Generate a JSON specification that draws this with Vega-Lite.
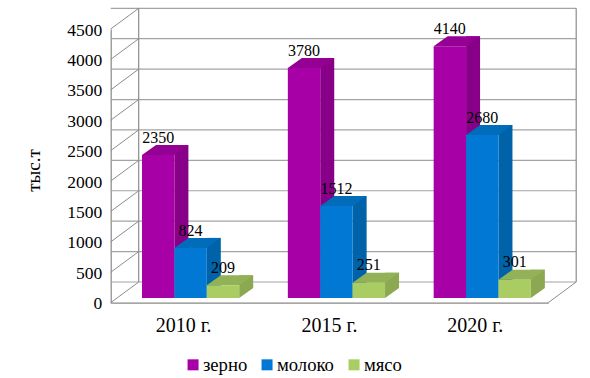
{
"$schema":"https://vega.github.io/schema/vega-lite/v6.json",
"width":437.5,"height":273.7,
"padding":{"left":110.7,"top":29,"right":41.8,"bottom":75.3},
"autosize":{"type":"none"},
"background":"white",
"config":{"view":{"stroke":null},"axis":{"labelFont":"Liberation Serif","titleFont":"Liberation Serif"},"axisY":{"labelOverlap":false,"labelBound":false,"labelFlush":false},"legend":{"labelFont":"Liberation Serif"}},
"datasets":{
"rows":[
{"year":"2010 г.","series":"зерно","value":2350},{"year":"2010 г.","series":"молоко","value":824},{"year":"2010 г.","series":"мясо","value":209},
{"year":"2015 г.","series":"зерно","value":3780},{"year":"2015 г.","series":"молоко","value":1512},{"year":"2015 г.","series":"мясо","value":251},
{"year":"2020 г.","series":"зерно","value":4140},{"year":"2020 г.","series":"молоко","value":2680},{"year":"2020 г.","series":"мясо","value":301}],
"ticks":[{"t":0},{"t":500},{"t":1000},{"t":1500},{"t":2000},{"t":2500},{"t":3000},{"t":3500},{"t":4000},{"t":4500}]
},
"layer":[
{"data":{"name":"ticks"},"mark":{"type":"rule","color":"#a3a3a3","strokeWidth":1.2,"xOffset":28,"yOffset":-20.7},
 "encoding":{"y":{"field":"t","type":"quantitative","scale":{"domain":[0,4500],"nice":false},"axis":{"values":[0,500,1000,1500,2000,2500,3000,3500,4000,4500],"tickCount":10,"format":"d","labelOverlap":false,"labelOffset":1,"ticks":false,"grid":false,"domainColor":"#888888","domainWidth":1.2,"labelFontSize":17.5,"labelColor":"black","labelPadding":9,"title":"тыс.т","titleFontSize":19,"titleFontWeight":"normal","titleColor":"black","titlePadding":23,"titleY":141}}}},
{"data":{"name":"ticks"},"mark":{"type":"point","shape":"M0 0L1 -0.739","size":3136,"filled":false,"stroke":"#8c8c8c","strokeWidth":1,"opacity":1},
 "encoding":{"x":{"datum":"2010 г.","bandPosition":0,"type":"nominal","scale":{"domain":["2010 г.","2015 г.","2020 г."],"paddingInner":0,"paddingOuter":0},"axis":{"title":null,"labelAngle":0,"ticks":false,"domainColor":"#888888","domainWidth":1.2,"labelFontSize":20,"labelColor":"black","labelPadding":13}},"y":{"field":"t","type":"quantitative"}}},
{"data":{"values":[{"t":0}]},"mark":{"type":"point","shape":"M0 0L1 -0.739","size":3136,"filled":false,"stroke":"#8c8c8c","strokeWidth":1,"opacity":1},
 "encoding":{"x":{"datum":"2020 г.","bandPosition":1,"type":"nominal"},"y":{"field":"t","type":"quantitative"}}},
{"data":{"values":[{"a":0,"b":4500}]},"mark":{"type":"rule","color":"#8c8c8c","strokeWidth":1.2,"xOffset":28,"yOffset":-20.7,"y2Offset":-20.7},
 "encoding":{"x":{"datum":"2010 г.","bandPosition":0,"type":"nominal"},"y":{"field":"a","type":"quantitative"},"y2":{"field":"b"}}},
{"data":{"values":[{"a":0,"b":4500}]},"mark":{"type":"rule","color":"#8c8c8c","strokeWidth":1.2,"xOffset":28,"yOffset":-20.7,"y2Offset":-20.7},
 "encoding":{"x":{"datum":"2020 г.","bandPosition":1,"type":"nominal"},"y":{"field":"a","type":"quantitative"},"y2":{"field":"b"}}},
{"data":{"name":"rows"},
 "encoding":{
  "x":{"field":"year","type":"nominal"}
 },
 "resolve":{"scale":{"color":"independent","xOffset":"independent"}},
 "layer":[
  {"mark":{"type":"bar","width":14,"yOffset":-14.7,"y2Offset":-14.7},
   "encoding":{"xOffset":{"field":"series","type":"nominal","sort":null,"scale":{"paddingInner":0,"paddingOuter":0,"range":[54.5,151.7]}},"y":{"field":"value","type":"quantitative"},"color":{"field":"series","type":"nominal","sort":null,"legend":null,"scale":{"range":["#880088","#0062A8","#8CA850"]}}}},
  {"mark":{"type":"point","shape":"M1 0L1 -0.617L1.864 -0.617Z","size":1049.76,"filled":true,"opacity":1,"yOffset":-4.7},
   "encoding":{"xOffset":{"field":"series","type":"nominal","sort":null,"scale":{"padding":0,"range":[47.5,112.3]}},"y":{"datum":0,"type":"quantitative"},"color":{"field":"series","type":"nominal","sort":null,"legend":null,"scale":{"range":["#880088","#0062A8","#8CA850"]}}}},
  {"mark":{"type":"point","shape":"M-1 0L1 0L1.864 -0.617L-0.136 -0.617Z","size":1049.76,"filled":true,"opacity":1,"yOffset":-4.7},
   "encoding":{"xOffset":{"field":"series","type":"nominal","sort":null,"scale":{"padding":0,"range":[47.5,112.3]}},"y":{"field":"value","type":"quantitative"},"color":{"field":"series","type":"nominal","sort":null,"legend":null,"scale":{"range":["#930093","#006CBA","#93B257"]}}}},
  {"mark":{"type":"bar","yOffset":-4.7,"y2Offset":-4.7},
   "encoding":{"xOffset":{"field":"series","type":"nominal","sort":null,"scale":{"paddingInner":0,"paddingOuter":0,"range":[31.3,128.5]}},"y":{"field":"value","type":"quantitative"},"color":{"field":"series","type":"nominal","sort":null,"scale":{"range":["#A600A6","#0078D4","#A9CD62"]},
     "legend":{"title":null,"orient":"none","direction":"horizontal","legendX":73,"legendY":326,"symbolType":"square","symbolSize":121,"symbolStrokeWidth":0,"labelFontSize":18.7,"labelColor":"black","labelOffset":0.5,"columnPadding":10,"columns":3}}}},
  {"mark":{"type":"text","font":"Liberation Serif","fontSize":16,"color":"black","baseline":"alphabetic","dy":-17},
   "encoding":{"xOffset":{"field":"series","type":"nominal","sort":null,"scale":{"padding":0,"range":[47.5,112.3]}},"y":{"field":"value","type":"quantitative"},"text":{"field":"value","type":"quantitative","format":"d"}}}
 ]}
]
}
